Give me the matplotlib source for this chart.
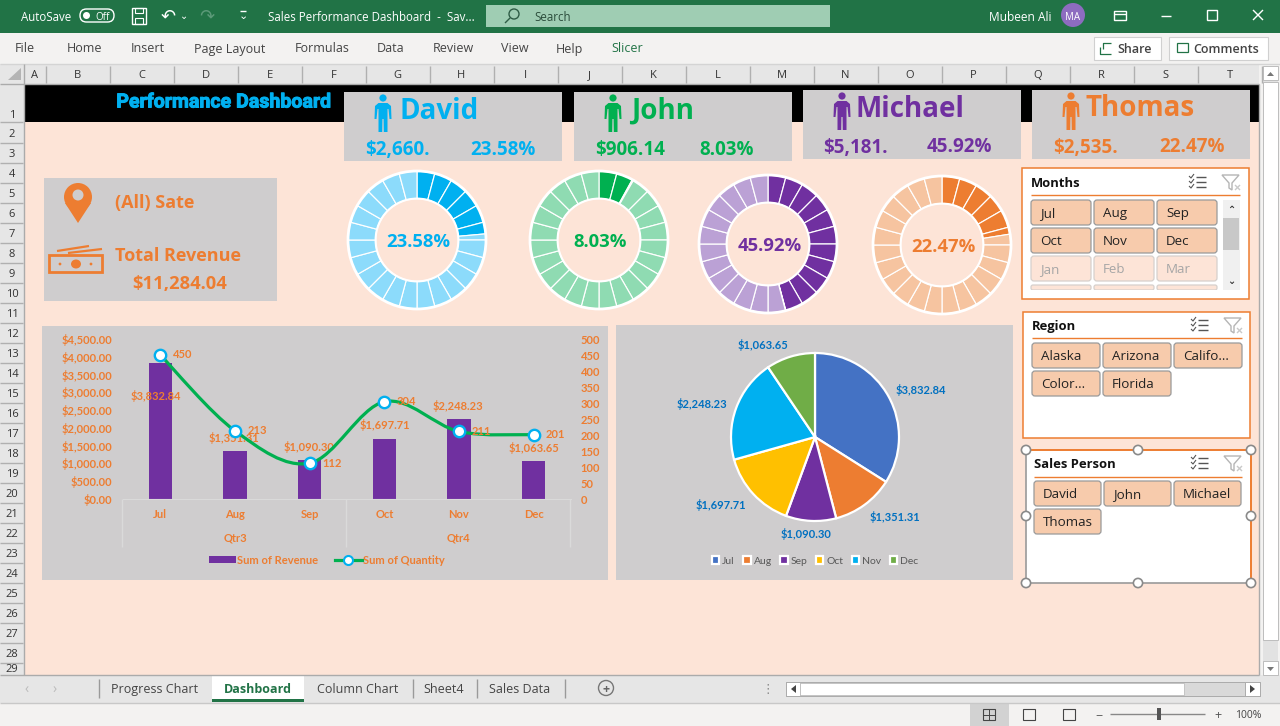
import matplotlib
matplotlib.use("Agg")
import matplotlib.pyplot as plt
from matplotlib.patches import Rectangle, Circle, FancyBboxPatch, Polygon, PathPatch, Ellipse
from matplotlib.path import Path
from matplotlib.lines import Line2D
import matplotlib.patheffects as pe
import numpy as np

# ---------- data ----------
months = ["Jul", "Aug", "Sep", "Oct", "Nov", "Dec"]
revenue = [3832.84, 1351.31, 1090.30, 1697.71, 2248.23, 1063.65]
quantity = [450, 213, 112, 304, 211, 201]
quarters = ["Qtr3", "Qtr4"]
people = ["David", "John", "Michael", "Thomas"]
person_revenue = ["$2,660.", "$906.14", "$5,181.", "$2,535."]
person_share = [23.58, 8.03, 45.92, 22.47]
total_revenue = "$11,284.04"
columns = list("ABCDEFGHIJKLMNOPQRST")
tabs = ["Progress Chart", "Dashboard", "Column Chart", "Sheet4", "Sales Data"]
ribbon = ["File", "Home", "Insert", "Page Layout", "Formulas", "Data", "Review", "View", "Help", "Slicer"]
months_slicer = ["Jul", "Aug", "Sep", "Oct", "Nov", "Dec", "Jan", "Feb", "Mar"]
region_slicer = ["Alaska", "Arizona", "Califo...", "Color...", "Florida"]
person_slicer = ["David", "John", "Michael", "Thomas"]

# ---------- styles ----------
W, H = 1280, 726
BG = "#FDE4D7"; PANEL = "#CFCDCE"; ORANGE = "#ED7D31"; GREEN = "#217346"
DARK = ["#00B0F0", "#00B050", "#7030A0", "#ED7D31"]
LIGHT = ["#8CDBFB", "#8FDBB2", "#BBA1D5", "#F6C4A0"]
PIE = ["#4472C4", "#ED7D31", "#7030A0", "#FFC000", "#00B0F0", "#70AD47"]
UI = "Open Sans"; CH = "Lato"

fig = plt.figure(figsize=(W / 100, H / 100), dpi=100, facecolor="#E6E6E6")
bg = fig.add_axes([0, 0, 1, 1], zorder=0)
bg.set_xlim(0, W); bg.set_ylim(H, 0); bg.axis("off")

def px_axes(l, t, r, b, **kw):
    return fig.add_axes([l / W, 1 - b / H, (r - l) / W, (b - t) / H], **kw)

def rect(l, t, r, b, fc, ec="none", lw=0, z=1):
    bg.add_patch(Rectangle((l, t), r - l, b - t, fc=fc, ec=ec, lw=lw, zorder=z))

def txt(x, y, s, size=9, color="#333333", ha="left", weight="normal", fam=UI, z=5):
    return bg.text(x, y, s, fontsize=size, color=color, ha=ha, va="center_baseline", fontweight=weight, family=fam, zorder=z)

def line(x, y, c="#888888", lw=1, z=3):
    bg.plot(x, y, color=c, lw=lw, zorder=z, solid_capstyle="butt")

# ---------- window chrome ----------
rect(0, 0, W, 33, GREEN)
rect(0, 33, W, 64, "#F3F2F1")
rect(0, 64, W, 84, "#E6E6E6")
rect(0, 84, 24, 675, "#E6E6E6")
rect(24, 84, 1259, 675, BG)
rect(24, 84, 1259, 122, "#000000")
rect(0, 675, W, 703, "#E6E6E6")
rect(0, 703, W, H, "#F3F2F1")
rect(1259, 64, W, 675, "#F3F2F1")
rect(1263, 66, 1278, 675, "#E2E2E2")
rect(1263, 82, 1278, 640, "#FFFFFF", ec="#BDBDBD", lw=.7, z=2)
rect(1263, 66, 1278, 80, "#FFFFFF", ec="#BDBDBD", lw=.7, z=2)
rect(1263, 661, 1278, 675, "#FFFFFF", ec="#BDBDBD", lw=.7, z=2)
bg.add_patch(Polygon([(1267, 76), (1274, 76), (1270.5, 72)], fc="#777777", zorder=3))
bg.add_patch(Polygon([(1267, 667), (1274, 667), (1270.5, 671)], fc="#777777", zorder=3))
line([1259, 1259], [84, 675], "#ABABAB")
line([0, W], [64, 64], "#D4D4D4")
line([0, 1259], [83.5, 83.5], "#ABABAB")
line([23.5, 23.5], [64, 675], "#ABABAB")
line([0, 1259], [675, 675], "#ABABAB")
line([0, W], [703, 703], "#C8C8C8")

txt(21, 16, "AutoSave", 8.3, "white")
bg.add_patch(FancyBboxPatch((80, 9), 34, 13, boxstyle="round,pad=0,rounding_size=6.5", fc="none", ec="white", lw=1, zorder=4))
bg.add_patch(Circle((86.5, 15.5), 3.5, fc="white", zorder=5))
txt(95, 16, "Off", 7, "white")
rect(132, 8, 146, 24, "none", ec="white", lw=1, z=4)
rect(135, 8, 143, 13, "none", ec="white", lw=.8, z=4)
rect(135, 18, 143, 24, "none", ec="white", lw=.8, z=4)
txt(168, 15, "↶", 13, "white", ha="center", fam="DejaVu Sans")
txt(184, 15, "⌄", 7, "white", ha="center", fam="DejaVu Sans")
txt(207, 15, "↷", 13, "#5C9A79", ha="center", fam="DejaVu Sans")
txt(243, 15, "⌄", 8, "white", ha="center", fam="DejaVu Sans")
line([240, 246], [11, 11], "white")
txt(268, 16, "Sales Performance Dashboard  -  Sav...", 8.3, "white")
rect(486, 5, 830, 27, "#9FCDB3")
bg.add_patch(Circle((514, 14), 5, fc="none", ec="#2F5D46", lw=1, zorder=4))
line([510, 505], [18, 23], "#2F5D46")
txt(534, 16, "Search", 8.3, "#2B4D3B")
txt(989, 16, "Mubeen Ali", 8.6, "white")
bg.add_patch(Circle((1073, 15), 12, fc="#8D6CC0", zorder=4))
txt(1073, 15.5, "MA", 7, "white", ha="center")
rect(1114, 11, 1126, 20, "none", ec="white", lw=1, z=4)
line([1114, 1126], [14, 14], "white")
line([1161, 1171], [16, 16], "white")
rect(1207, 10, 1217, 20, "none", ec="white", lw=1, z=4)
line([1253, 1263], [10, 20], "white"); line([1253, 1263], [20, 10], "white")

rib_x = [15, 67, 131, 194, 295, 377, 433, 501, 556, 611]
for name, x in zip(ribbon, rib_x):
    txt(x, 47.5, name, 9, GREEN if name == "Slicer" else "#444444")
rect(1094, 37, 1161, 60, "white", ec="#D0D0D0", lw=.8)
txt(1117, 48, "Share", 9, "#444444", weight="semibold")
line([1100, 1100, 1111], [47, 54, 54], GREEN, .9, 4)
line([1103, 1103, 1111], [49, 43, 43], GREEN, .9, 4)
rect(1169, 37, 1268, 60, "white", ec="#D0D0D0", lw=.8)
txt(1193, 48, "Comments", 9, "#444444", weight="semibold")
rect(1177, 43, 1188, 52, "none", ec=GREEN, lw=.9, z=4)

# column / row headers
bg.add_patch(Polygon([[8, 80], [21, 80], [21, 68]], fc="#B4B4B4", zorder=3))
col_edges = [24, 46] + [46 + 64 * i for i in range(1, 20)]
for i, c in enumerate(columns):
    l, r = col_edges[i], col_edges[i + 1]
    txt((l + r) / 2 - .5, 74, c, 8, "#333333", ha="center")
    line([r, r], [66, 83], "#B0B0B0")
for n in range(1, 30):
    y = 114 if n == 1 else 93 + 20 * n
    if n == 29:
        y = 668
    txt(12, y, str(n), 8, "#333333", ha="center")
    ye = 122 if n == 1 else 103 + 20 * n
    if ye < 675:
        line([0, 23], [ye, ye], "#B0B0B0")

# sheet tabs
tab_x = [155, 258, 358, 444, 520]
rect(212, 675, 304, 700, "white")
rect(212, 699, 304, 702, GREEN, z=2)
for name, x in zip(tabs, tab_x):
    act = name == "Dashboard"
    txt(x, 688, name, 9, GREEN if act else "#444444", ha="center", weight="bold" if act else "normal")
for x in [99, 413, 477, 565]:
    line([x, x], [679, 698], "#9A9A9A")
txt(27, 688, "‹", 10, "#BBBBBB", ha="center"); txt(55, 688, "›", 10, "#BBBBBB", ha="center")
bg.add_patch(Circle((606, 688), 7.5, fc="none", ec="#777777", lw=1, zorder=3))
txt(606, 688, "+", 9, "#666666", ha="center", weight="bold")
txt(768, 688, "⋮", 9, "#888888", ha="center", fam="DejaVu Sans")
rect(786, 682, 1260, 696, "#D9D9D9", ec="#ABABAB", lw=.7)
rect(786, 682, 800, 696, "white", ec="#ABABAB", lw=.7)
rect(800, 683, 1184, 695, "white", ec="#BEBEBE", lw=.6)
rect(1245, 682, 1260, 696, "white", ec="#ABABAB", lw=.7)
bg.add_patch(Polygon([(796, 685), (796, 693), (791, 689)], fc="#444444", zorder=3))
bg.add_patch(Polygon([(1250, 685), (1250, 693), (1255, 689)], fc="#444444", zorder=3))
# status bar
rect(970, 703, 1009, H, "#D2D2D2")
for x in [989, 1029, 1069]:
    rect(x - 6, 709, x + 6, 720, "none", ec="#444444", lw=.8, z=4)
line([983, 995], [714.5, 714.5], "#444444", .7); line([989, 989], [709, 720], "#444444", .7)
line([1110, 1205], [714, 714], "#888888")
rect(1157, 708, 1161, 720, "#555555", z=4)
txt(1099, 714, "−", 9, "#555555", ha="center"); txt(1218, 714, "+", 9, "#555555", ha="center")
txt(1248, 714, "100%", 7.5, "#444444", ha="center")

# ---------- dashboard header ----------
bg.text(224, 102, "Performance Dashboard", fontsize=14.1, color="#00B0F0", ha="center", va="center",
        fontweight="bold", family=["Liberation Sans Narrow", "Roboto"], zorder=5,
        path_effects=[pe.withStroke(linewidth=.7, foreground="#00B0F0")])

def person(x, top, h, color):
    u = h / 38
    bg.add_patch(Circle((x, top + 4 * u), 3.6 * u, fc=color, zorder=5))
    pts = [(-4.5, 9), (4.5, 9), (8, 12), (8.5, 25), (6.5, 25), (5.5, 15), (4.5, 15), (4.5, 38), (.8, 38), (.6, 25), (-.6, 25),
           (-.8, 38), (-4.5, 38), (-4.5, 15), (-5.5, 15), (-6.5, 25), (-8.5, 25), (-8, 12)]
    bg.add_patch(Polygon([(x + a * u, top + b * u) for a, b in pts], fc=color, zorder=5))

cards = [(344, 92, 562, 161, 383, 399, 365, 470, 108, 147.5),
         (574, 92, 792, 161, 613, 631, 595, 699, 108, 147.5),
         (803, 90, 1021, 159, 842, 856, 823, 927, 106, 145),
         (1032, 90, 1250, 159, 1071, 1086, 1053, 1159, 105, 145)]
for i, (l, t, r, b, ix, nx, vx, px, ny, vy) in enumerate(cards):
    rect(l, t, r, b, PANEL, z=2)
    person(ix, t + 2, 38, DARK[i])
    txt(nx, ny, people[i], 20, DARK[i], weight="bold", fam=UI)
    txt(vx, vy, person_revenue[i], 13.5, DARK[i], weight="bold", fam=UI)
    txt(px, vy, f"{person_share[i]:.2f}%", 13.5, DARK[i], weight="bold", fam=UI)

# left info panel
rect(44, 178, 277, 301, PANEL, z=2)
bg.add_patch(Circle((78, 197), 14, fc=ORANGE, zorder=5))
bg.add_patch(Polygon([(65, 203), (91, 203), (78, 223)], fc=ORANGE, zorder=5))
bg.add_patch(Circle((78, 195), 5.5, fc=PANEL, zorder=6))
rect(49, 255, 102, 272, "none", ec=ORANGE, lw=2, z=5)
line([57, 89], [251, 246], ORANGE, 1.6, 5)
line([68, 102], [253, 249], ORANGE, 1.6, 5)
bg.add_patch(Ellipse((76, 264), 10, 9, fc=ORANGE, zorder=6))
bg.add_patch(Circle((60, 264), 1.4, fc=ORANGE, zorder=6)); bg.add_patch(Circle((91, 264), 1.4, fc=ORANGE, zorder=6))
txt(115, 201, "(All) Sate", 13, ORANGE, weight="bold")
txt(115, 254, "Total Revenue", 13, ORANGE, weight="bold")
txt(132, 282, total_revenue, 13.2, ORANGE, weight="bold")

# ---------- donuts ----------
centers = [(417, 240), (599, 240), (768, 244), (942, 245)]
R = 69
for i, (cx, cy) in enumerate(centers):
    share = person_share[i] / 100
    edges = sorted(set(np.round(np.arange(25) / 24, 6)) | {share})
    sizes = np.diff(edges)
    cols = [DARK[i] if e < share else LIGHT[i] for e in edges[:-1]]
    ax = px_axes(cx - R - 2, cy - R - 2, cx + R + 2, cy + R + 2, zorder=2)
    ax.pie(sizes, colors=cols, startangle=90, counterclock=False, normalize=True, radius=1,
           wedgeprops=dict(width=0.4, edgecolor="white", linewidth=.85))
    ax.set_xlim(-(R + 2) / R, (R + 2) / R); ax.set_ylim(-(R + 2) / R, (R + 2) / R)
    ax.add_patch(Circle((0, 0), 1, fc="none", ec="white", lw=2))
    ax.add_patch(Circle((0, 0), .6, fc="none", ec="white", lw=1.5))
    ax.text(0.02, -0.005, f"{person_share[i]:.2f}%", fontsize=13.3, fontweight="bold", color=DARK[i],
            ha="center", va="center_baseline", family=UI)

# ---------- combo chart ----------
rect(42, 326, 608, 580, PANEL, z=2)
ax1 = px_axes(123, 339, 571, 499, zorder=2)
ax1.patch.set_alpha(0)
x = np.arange(len(months))
ax1.bar(x, revenue, width=0.31, color="#7030A0", label="Sum of Revenue")
ax1.set_xlim(-.5, 5.5); ax1.set_ylim(0, 4500)
ax1.set_yticks(np.arange(0, 4501, 500))
ax1.set_yticklabels([f"${v:,.2f}" for v in np.arange(0, 4501, 500)])
ax1.set_xticks(x); ax1.set_xticklabels(months)
ax1.tick_params(axis="both", length=0, colors=ORANGE)
ax1.tick_params(axis="y", pad=7.5)
ax1.tick_params(axis="x", pad=7.3)
for t in ax1.get_xticklabels() + ax1.get_yticklabels():
    t.set_fontsize(8); t.set_fontweight("bold"); t.set_family(CH)
for s in ["left", "right", "top"]:
    ax1.spines[s].set_visible(False)
ax1.spines["bottom"].set_color("#DADADA")

ax2 = ax1.twinx()
ax2.set_zorder(3); ax2.patch.set_alpha(0)
ax2.set_ylim(0, 500); ax2.set_yticks(np.arange(0, 501, 50))
ax2.tick_params(axis="y", length=0, colors=ORANGE, pad=7)
for t in ax2.get_yticklabels():
    t.set_fontsize(8); t.set_fontweight("bold"); t.set_family(CH)
for s in ax2.spines.values():
    s.set_visible(False)
# smoothed line through the quantity values (cubic handles from neighbouring points)
q = np.array(quantity, float)
verts = [(x[0], q[0])]; codes = [Path.MOVETO]
for k in range(len(q) - 1):
    p0 = (x[max(k - 1, 0)], q[max(k - 1, 0)]); p1 = (x[k], q[k])
    p2 = (x[k + 1], q[k + 1]); p3 = (x[min(k + 2, 5)], q[min(k + 2, 5)])
    verts += [(p1[0] + (p2[0] - p0[0]) / 6, p1[1] + (p2[1] - p0[1]) / 6),
              (p2[0] - (p3[0] - p1[0]) / 6, p2[1] - (p3[1] - p1[1]) / 6), p2]
    codes += [Path.CURVE4] * 3
ax2.add_patch(PathPatch(Path(verts, codes), fc="none", ec="#00B050", lw=2.3))
ax2.plot(x, q, ls="none", marker="o", ms=8.2, mfc="white", mec="#00B0F0", mew=1.7, zorder=5)

bar_off = [(-5, -33), (-1, 13), (-1, 13), (1, 14), (-1, 13), (0, 13)]
for xi, v, off in zip(x, revenue, bar_off):
    ax1.annotate(f"${v:,.2f}", (xi, v), xytext=off, textcoords="offset pixels", ha="center", va="center",
                 fontsize=8, fontweight="bold", color=ORANGE, family=CH, annotation_clip=False)
for xi, v in zip(x, quantity):
    ax2.annotate(str(v), (xi, v), xytext=(22, 0), textcoords="offset pixels", ha="center", va="center",
                 fontsize=8, fontweight="bold", color=ORANGE, family=CH, zorder=6)

for xx in [122, 346, 570]:
    line([xx, xx], [499, 547], "#DADADA", 1, 3)
for name, xx in zip(quarters, [235, 458]):
    txt(xx, 537, name, 8, ORANGE, ha="center", weight="bold", fam=CH)
handles = [Rectangle((0, 0), 1, 1, fc="#7030A0"),
           Line2D([0], [0], color="#00B050", lw=2.3, marker="o", ms=6.5, mfc="white", mec="#00B0F0", mew=1.5)]
leg = ax1.legend(handles, ["Sum of Revenue", "Sum of Quantity"], ncol=2, frameon=False, loc="center",
                 bbox_to_anchor=(327 / W, 1 - 560 / H), bbox_transform=fig.transFigure,
                 prop=dict(family=CH, size=8, weight="bold"), labelcolor=ORANGE, handlelength=2.4,
                 handletextpad=.15, columnspacing=1.5, handleheight=.5)

# ---------- pie ----------
rect(616, 325, 1013, 580, PANEL, z=2)
pr = 84
pie_ax = px_axes(815 - pr, 437 - pr, 815 + pr, 437 + pr, zorder=2)
wedges, _ = pie_ax.pie(revenue, colors=PIE, startangle=90, counterclock=False, radius=1,
                       wedgeprops=dict(edgecolor="white", linewidth=1.6))
pie_ax.set_xlim(-1, 1); pie_ax.set_ylim(-1, 1)
pie_off = [(106, 47), (80, -80), (-9, -97), (-94, -68), (-113, 33), (-52, 92)]
for v, off in zip(revenue, pie_off):
    pie_ax.annotate(f"${v:,.2f}", (0, 0), xytext=off, textcoords="offset pixels", ha="center", va="center",
                    fontsize=8, fontweight="bold", color="#0070C0", family=CH, annotation_clip=False)
pie_ax.legend(wedges, months, ncol=6, frameon=False, loc="center",
              bbox_to_anchor=(815 / W, 1 - 561 / H), bbox_transform=fig.transFigure,
              prop=dict(family=CH, size=7.5), labelcolor="#595959", handlelength=.7, handleheight=.7,
              handletextpad=.3, columnspacing=.8)

# ---------- slicers ----------
def head_icons(cx, y):
    for k, yy in enumerate([y - 5, y, y + 5]):
        line([cx - 2, cx + 8], [yy, yy], "#555555", 1, 6)
        line([cx - 9, cx - 7, cx - 4], [yy - 1, yy + 1, yy - 3], "#555555", .8, 6)
    fx = cx + 32
    bg.add_patch(Polygon([(fx - 8, y - 7), (fx + 9, y - 7), (fx + 2, y + 1), (fx + 2, y + 8), (fx - 1, y + 6), (fx - 1, y + 1)],
                         fc="none", ec="#B5B5B5", lw=1, zorder=6))
    line([fx + 5, fx + 10], [y + 3, y + 8], "#C9C9C9", 1, 6); line([fx + 10, fx + 5], [y + 3, y + 8], "#C9C9C9", 1, 6)

def button(l, t, r, b, s, on=True):
    bg.add_patch(FancyBboxPatch((l + 2, t + 2), r - l - 4, b - t - 4, boxstyle="round,pad=2,rounding_size=3",
                                fc="#F7CBAC" if on else BG, ec="#9A9A9A" if on else "#D6D0CC", lw=.9, zorder=5))
    if s:
        txt(l + 9, (t + b) / 2 - .5, s, 9.6, "#222222" if on else "#A6A6A6", z=6)

# Months
rect(1022, 168, 1249, 299, "white", ec=ORANGE, lw=1.1, z=2)
txt(1031, 182, "Months", 9.4, "#111111", weight="bold")
head_icons(1198, 182)
line([1031, 1240], [195, 195], ORANGE, 1, 4)
mx = [(1031, 1091), (1094, 1154), (1157, 1217)]
for k, s in enumerate(months_slicer):
    l, r = mx[k % 3]; t = 200 + 28 * (k // 3)
    button(l, t, r, t + 25, s, on=k < 6)
for l, r in mx:
    bg.add_patch(FancyBboxPatch((l + 2, 287), r - l - 4, 1, boxstyle="round,pad=2,rounding_size=2", fc=BG, ec="#D6D0CC", lw=.9, zorder=5))
rect(1023, 290, 1248, 298.4, "white", z=6)
rect(1223, 200, 1240, 290, "#F0F0F0", z=4)
rect(1223, 218, 1239, 250, "#C8C8C8", z=5)
txt(1231, 209, "⌃", 7, "#333333", ha="center", fam="DejaVu Sans", weight="bold")
txt(1231, 280, "⌄", 7, "#333333", ha="center", fam="DejaVu Sans", weight="bold")
# Region
rect(1023, 312, 1250, 438, "white", ec=ORANGE, lw=1.1, z=2)
txt(1032, 325, "Region", 9.4, "#111111", weight="bold")
head_icons(1200, 325)
line([1032, 1242], [338, 338], ORANGE, 1, 4)
rx = [(1032, 1100), (1103, 1171), (1174, 1242)]
for k, s in enumerate(region_slicer):
    l, r = rx[k % 3]; t = 343 + 28 * (k // 3)
    button(l, t, r, t + 25, s)
# Sales Person
rect(1026, 450, 1251, 583, "white", z=2)
line([1026, 1251], [450, 450], ORANGE, 1.4, 3); line([1251, 1251], [450, 583], ORANGE, 1.4, 3)
line([1026, 1026], [450, 583], "#9A9A9A", 1.2, 3); line([1026, 1251], [583, 583], "#9A9A9A", 1.2, 3)
txt(1034, 463, "Sales Person", 9.4, "#111111", weight="bold")
head_icons(1200, 463)
line([1034, 1242], [477, 477], ORANGE, 1, 4)
sx = [(1034, 1101), (1104, 1171), (1174, 1241)]
for k, s in enumerate(person_slicer):
    l, r = sx[k % 3]; t = 481 + 28 * (k // 3)
    button(l, t, r, t + 25, s)
for hx, hy in [(1026, 450), (1138, 450), (1251, 450), (1026, 516), (1251, 516), (1026, 583), (1138, 583), (1251, 583)]:
    bg.add_patch(Circle((hx, hy), 4.6, fc="white", ec="#8A8A8A", lw=1.2, zorder=7))

fig.savefig("out.png", dpi=100, facecolor=fig.get_facecolor())
